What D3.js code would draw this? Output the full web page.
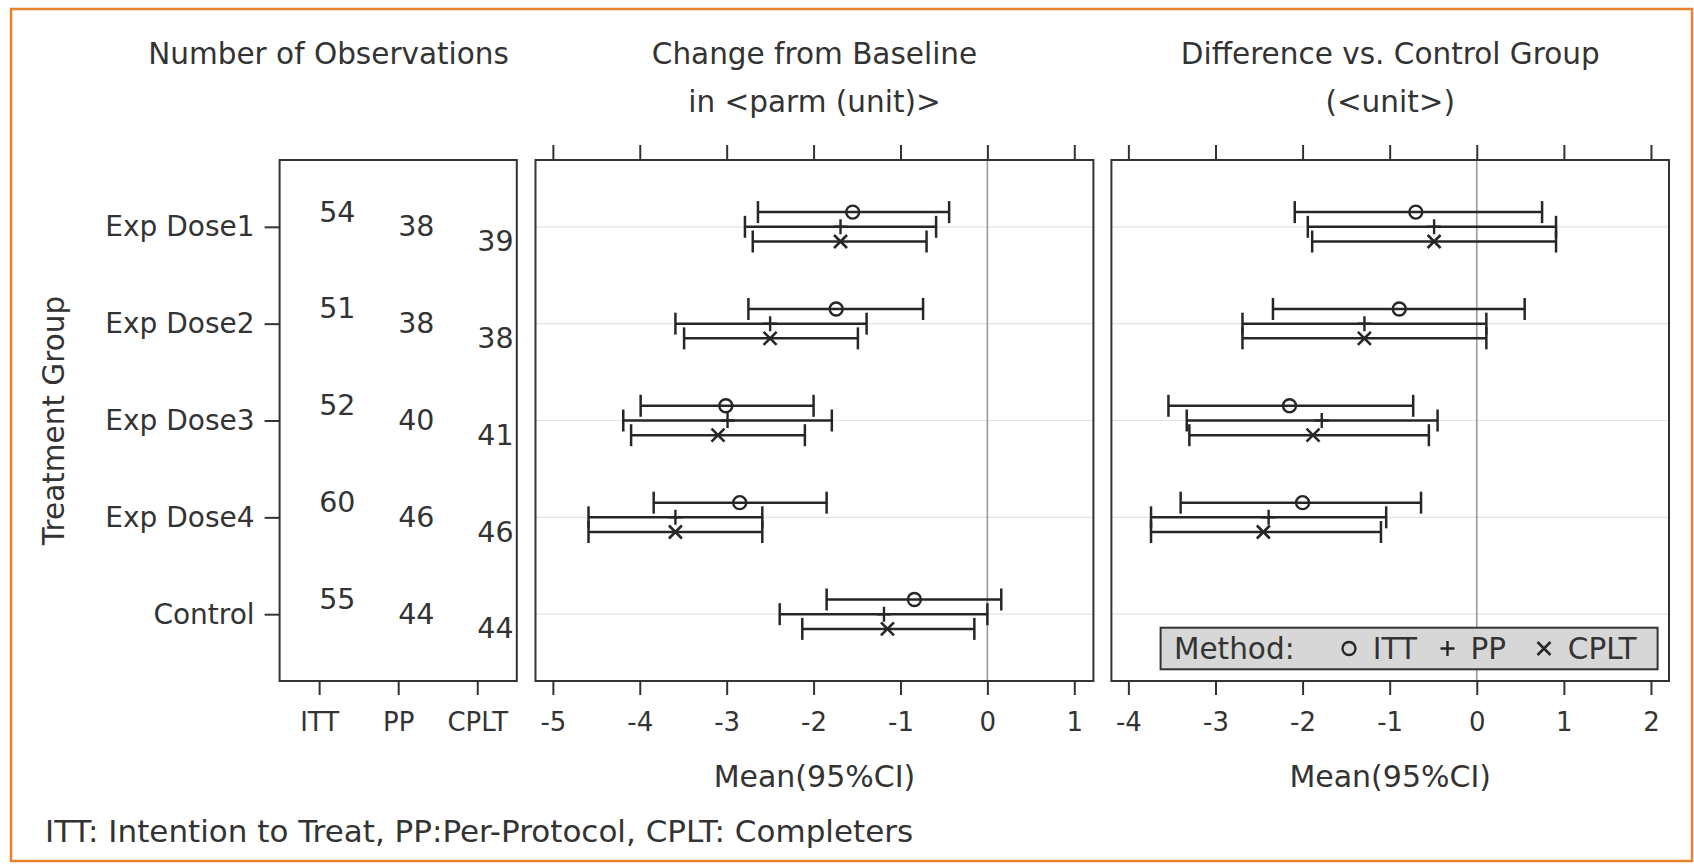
<!DOCTYPE html>
<html>
<head>
<meta charset="utf-8">
<script src="https://cdn.jsdelivr.net/npm/d3@7"></script>
<style>
  body { margin: 0; background: #fff; }
  text { font-family: "DejaVu Sans", sans-serif; fill: #333; }
</style>
</head>
<body>
<svg id="svg"></svg>
<script>
// treatment groups and analysis methods
const groups = ['Exp Dose1', 'Exp Dose2', 'Exp Dose3', 'Exp Dose4', 'Control'];
const methods = ['ITT', 'PP', 'CPLT'];

// number of observations per method
const nITT = [54, 51, 52, 60, 55];
const nPP = [38, 38, 40, 46, 44];
const nCPLT = [39, 38, 41, 46, 44];

// change from baseline: mean, lower, upper
const chgITT = [-1.55, -1.74, -3.01, -2.85, -0.84];
const chgITTLow = [-2.64, -2.75, -3.99, -3.84, -1.85];
const chgITTHigh = [-0.44, -0.74, -2.00, -1.85, 0.16];
const chgPP = [-1.69, -2.50, -2.99, -3.59, -1.19];
const chgPPLow = [-2.79, -3.59, -4.19, -4.59, -2.39];
const chgPPHigh = [-0.59, -1.39, -1.79, -2.59, 0.00];
const chgCPLT = [-1.69, -2.50, -3.10, -3.59, -1.15];
const chgCPLTLow = [-2.70, -3.49, -4.10, -4.59, -2.13];
const chgCPLTHigh = [-0.70, -1.49, -2.10, -2.59, -0.15];

// difference vs control (no row for Control itself)
const difITT = [-0.70, -0.89, -2.15, -2.00];
const difITTLow = [-2.09, -2.34, -3.54, -3.40];
const difITTHigh = [0.75, 0.55, -0.73, -0.64];
const difPP = [-0.49, -1.29, -1.78, -2.39];
const difPPLow = [-1.94, -2.69, -3.33, -3.74];
const difPPHigh = [0.91, 0.11, -0.45, -1.04];
const difCPLT = [-0.49, -1.29, -1.88, -2.45];
const difCPLTLow = [-1.89, -2.69, -3.30, -3.74];
const difCPLTHigh = [0.91, 0.11, -0.55, -1.10];

const chgTicks = [-5, -4, -3, -2, -1, 0, 1];
const difTicks = [-4, -3, -2, -1, 0, 1, 2];

const width = 1694;
const height = 865;
const ink = '#333';
const barInk = '#262626';

const svg = d3.select('#svg')
  .attr('width', width)
  .attr('height', height);

// orange frame
svg.append('rect')
  .attr('x', 11).attr('y', 9)
  .attr('width', 1681).attr('height', 852)
  .attr('fill', 'none')
  .attr('stroke', '#e8822f')
  .attr('stroke-width', 2.5);

const plotTop = 160, plotBottom = 681;

const y = d3.scalePoint().domain(groups).range([plotTop, plotBottom]).padding(0.69);
const sub = d3.scalePoint().domain(methods).range([-14.7, 14.7]);

const x1 = d3.scalePoint().domain(methods).range([279.6, 516.8]).padding(0.5);
const x2 = d3.scaleLinear().domain([-5.2, 1.22]).range([535.5, 1093.4]);
const x3 = d3.scaleLinear().domain([-4.195, 2.207]).range([1111.4, 1669]);

function styleAxis(g, size) {
  g.select('.domain').remove();
  g.selectAll('line').attr('stroke', ink).attr('stroke-width', 2);
  g.selectAll('text')
    .attr('font-size', size)
    .attr('font-family', '"DejaVu Sans", sans-serif')
    .attr('fill', ink);
}

// titles
function title(x, lines) {
  lines.forEach((t, i) => {
    svg.append('text')
      .attr('x', x)
      .attr('y', 64 + i * 48)
      .attr('text-anchor', 'middle')
      .attr('font-size', 29.5)
      .text(t);
  });
}
title(328.6, ['Number of Observations']);
title(814.5, ['Change from Baseline', 'in <parm (unit)>']);
title(1390.2, ['Difference vs. Control Group', '(<unit>)']);

// ---- panel 1: counts ----
const counts = { ITT: nITT, PP: nPP, CPLT: nCPLT };

svg.append('g')
  .attr('transform', `translate(279.6,0)`)
  .call(d3.axisLeft(y).tickSize(15).tickPadding(10))
  .call(g => styleAxis(g, 28));

svg.append('g')
  .attr('transform', `translate(0,${plotBottom})`)
  .call(d3.axisBottom(x1).tickSize(14).tickPadding(18))
  .call(g => styleAxis(g, 26));

methods.forEach(m => {
  svg.append('g').selectAll('text')
    .data(groups)
    .join('text')
    .attr('x', x1(m))
    .attr('y', (d, i) => y(d) + sub(m))
    .attr('dominant-baseline', 'central')
    .attr('font-size', 28.5)
    .text((d, i) => counts[m][i]);
});

svg.append('rect')
  .attr('x', 279.6).attr('y', plotTop)
  .attr('width', 516.8 - 279.6).attr('height', plotBottom - plotTop)
  .attr('fill', 'none').attr('stroke', ink).attr('stroke-width', 2);

svg.append('text')
  .attr('transform', `translate(64,${(plotTop + plotBottom) / 2}) rotate(-90)`)
  .attr('text-anchor', 'middle')
  .attr('font-size', 29.5)
  .text('Treatment Group');

// ---- forest panels ----
function marker(g, m, cx, cy) {
  if (m === 'ITT') {
    g.append('circle').attr('cx', cx).attr('cy', cy).attr('r', 6.5)
      .attr('fill', 'none').attr('stroke', barInk).attr('stroke-width', 2.4);
  } else if (m === 'PP') {
    g.append('path').attr('d', `M${cx - 7},${cy}H${cx + 7}M${cx},${cy - 7.5}V${cy + 7.5}`)
      .attr('stroke', barInk).attr('stroke-width', 2.4);
  } else {
    g.append('path').attr('d', `M${cx - 6.5},${cy - 6.5}L${cx + 6.5},${cy + 6.5}M${cx - 6.5},${cy + 6.5}L${cx + 6.5},${cy - 6.5}`)
      .attr('stroke', barInk).attr('stroke-width', 2.6);
  }
}

function forest(x, ticks, series) {
  const [x0, xEnd] = x.range();
  const g = svg.append('g');

  // grid lines
  g.selectAll('line.grid')
    .data(groups)
    .join('line')
    .attr('x1', x0).attr('x2', xEnd)
    .attr('y1', d => y(d)).attr('y2', d => y(d))
    .attr('stroke', '#e3e3e3').attr('stroke-width', 1.2);

  // reference line at 0
  g.append('line')
    .attr('x1', x(0)).attr('x2', x(0))
    .attr('y1', plotTop).attr('y2', plotBottom)
    .attr('stroke', '#9a9a9a').attr('stroke-width', 1.6);

  methods.forEach(m => {
    const [mean, low, high] = series[m];
    mean.forEach((v, i) => {
      const cy = y(groups[i]) + sub(m);
      const bar = g.append('g');
      bar.append('line')
        .attr('x1', x(low[i])).attr('x2', x(high[i]))
        .attr('y1', cy).attr('y2', cy)
        .attr('stroke', barInk).attr('stroke-width', 2.5);
      [low[i], high[i]].forEach(e => {
        bar.append('line')
          .attr('x1', x(e)).attr('x2', x(e))
          .attr('y1', cy - 11).attr('y2', cy + 11)
          .attr('stroke', barInk).attr('stroke-width', 2.5);
      });
      marker(bar, m, x(v), cy);
    });
  });

  svg.append('g')
    .attr('transform', `translate(0,${plotTop})`)
    .call(d3.axisTop(x).tickValues(ticks).tickSize(15).tickFormat(''))
    .call(a => styleAxis(a, 26));

  svg.append('g')
    .attr('transform', `translate(0,${plotBottom})`)
    .call(d3.axisBottom(x).tickValues(ticks).tickSize(14).tickPadding(18).tickFormat(d => String(d)))
    .call(a => styleAxis(a, 26));

  svg.append('rect')
    .attr('x', x0).attr('y', plotTop)
    .attr('width', xEnd - x0).attr('height', plotBottom - plotTop)
    .attr('fill', 'none').attr('stroke', ink).attr('stroke-width', 2);

  svg.append('text')
    .attr('x', (x0 + xEnd) / 2)
    .attr('y', 787)
    .attr('text-anchor', 'middle')
    .attr('font-size', 30)
    .text('Mean(95%CI)');
}

forest(x2, chgTicks, {
  ITT: [chgITT, chgITTLow, chgITTHigh],
  PP: [chgPP, chgPPLow, chgPPHigh],
  CPLT: [chgCPLT, chgCPLTLow, chgCPLTHigh]
});
forest(x3, difTicks, {
  ITT: [difITT, difITTLow, difITTHigh],
  PP: [difPP, difPPLow, difPPHigh],
  CPLT: [difCPLT, difCPLTLow, difCPLTHigh]
});

// legend inside the difference panel
const legend = svg.append('g');
legend.append('rect')
  .attr('x', 1160.6).attr('y', 627.7)
  .attr('width', 497).attr('height', 41.6)
  .attr('fill', '#d7d7d7').attr('stroke', ink).attr('stroke-width', 2);
legend.append('text')
  .attr('x', 1174).attr('y', 659)
  .attr('font-size', 29.5)
  .text('Method:');
const legendItems = [
  { m: 'ITT', cx: 1349, tx: 1372.7 },
  { m: 'PP', cx: 1447.5, tx: 1470.5 },
  { m: 'CPLT', cx: 1544, tx: 1567.8 }
];
legendItems.forEach(d => {
  marker(legend, d.m, d.cx, 648.5);
  legend.append('text')
    .attr('x', d.tx).attr('y', 659)
    .attr('font-size', 29.5)
    .text(d.m);
});

// footnote
svg.append('text')
  .attr('x', 45).attr('y', 842)
  .attr('font-size', 31)
  .text('ITT: Intention to Treat, PP:Per-Protocol, CPLT: Completers');
</script>
</body>
</html>
